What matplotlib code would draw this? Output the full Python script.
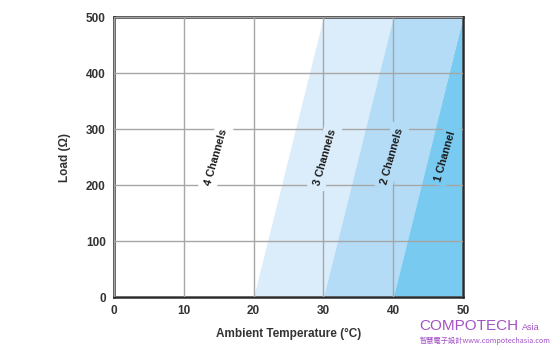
import matplotlib
matplotlib.use("Agg")
import matplotlib.pyplot as plt

# Data
load = [0, 500]
edge_3ch = [20, 30]   # temperature (°C) at load 0 and 500 where 3-channel zone starts
edge_2ch = [30, 40]
edge_1ch = [40, 50]
edge_max = [50, 50]
x_ticks = [0, 10, 20, 30, 40, 50]
y_ticks = [0, 100, 200, 300, 400, 500]
labels = ["4 Channels", "3 Channels", "2 Channels", "1 Channel"]
label_x = [14.6, 30.2, 39.8, 47.4]
label_y = [250, 250, 252, 252]

c3 = "#dbedfa"
c2 = "#b4dcf6"
c1 = "#78caf0"
label_bg = ["white", c3, c2, c1]

plt.rcParams['font.family'] = ['Liberation Sans', 'DejaVu Sans']

fig = plt.figure(figsize=(5.6, 3.5), dpi=100)
ax = fig.add_axes([0.2036, 0.1514, 0.6232, 0.8])

ax.fill_betweenx(load, edge_3ch, edge_2ch, color=c3, lw=0, zorder=1)
ax.fill_betweenx(load, edge_2ch, edge_1ch, color=c2, lw=0, zorder=1)
ax.fill_betweenx(load, edge_1ch, edge_max, color=c1, lw=0, zorder=1)

ax.set_xlim(0, 50)
ax.set_ylim(0, 500)
ax.set_xticks(x_ticks)
ax.set_yticks(y_ticks)
ax.tick_params(length=0, labelsize=8.5, labelcolor="#333333", pad=6)
for t in ax.get_xticklabels() + ax.get_yticklabels():
    t.set_fontweight("bold")

ax.grid(True, color="#a6a6a6", lw=1.0, zorder=2)
ax.set_axisbelow(False)

for sp in ax.spines.values():
    sp.set_color("#2a2a2a")
    sp.set_linewidth(1.8)

for txt, x, y, bg in zip(labels, label_x, label_y, label_bg):
    ax.text(x, y, txt, rotation=74, ha="center", va="center", fontsize=7.8,
            fontweight="bold", color="#1a1a1a", zorder=4,
            bbox=dict(facecolor=bg, edgecolor="none", pad=3))

ax.set_xlabel("Ambient Temperature (°C)", fontsize=8.5, fontweight="bold",
              color="#333333", labelpad=8)
ax.set_ylabel("Load (Ω)", fontsize=8.5, fontweight="bold", color="#333333",
              labelpad=11)

# watermark
purple = "#a352c6"
fig.text(0.748, 0.05, "COMPOTECH", fontsize=11, color=purple,
         ha="left", va="bottom")
fig.text(0.933, 0.052, "Asia", fontsize=6.5, color=purple,
         ha="left", va="bottom")
fig.text(0.75, 0.015, "智慧電子設計www.compotechasia.com", fontsize=5.2, color=purple,
         family=['Noto Sans CJK TC', 'DejaVu Sans'], ha="left", va="bottom")

fig.savefig("out.png", dpi=100)
